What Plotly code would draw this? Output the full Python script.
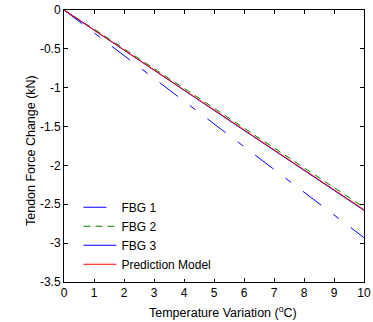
import plotly.graph_objects as go

temp = [0, 0.5, 1, 1.5, 2, 2.5, 3, 3.5, 4, 4.5, 5, 5.5, 6, 6.5, 7, 7.5, 8, 8.5, 9, 9.5, 10]
fbg1 = [0, -0.147, -0.293, -0.440, -0.586, -0.733, -0.879, -1.026, -1.172, -1.319, -1.465,
        -1.612, -1.758, -1.905, -2.051, -2.198, -2.344, -2.491, -2.637, -2.784, -2.930]
fbg2 = [0, -0.120, -0.245, -0.372, -0.498, -0.625, -0.752, -0.880, -1.006, -1.136, -1.262,
        -1.392, -1.520, -1.647, -1.776, -1.903, -2.034, -2.160, -2.290, -2.418, -2.540]
fbg3 = [0, -0.130, -0.260, -0.390, -0.518, -0.648, -0.777, -0.905, -1.034, -1.163, -1.291,
        -1.420, -1.548, -1.677, -1.806, -1.934, -2.063, -2.191, -2.320, -2.449, -2.578]
pred = [0, -0.129, -0.257, -0.386, -0.514, -0.643, -0.771, -0.900, -1.028, -1.157, -1.285,
        -1.414, -1.542, -1.671, -1.799, -1.928, -2.056, -2.185, -2.313, -2.442, -2.570]

x_ticks = [0, 1, 2, 3, 4, 5, 6, 7, 8, 9, 10]
y_ticks = [0, -0.5, -1, -1.5, -2, -2.5, -3, -3.5]
y_tick_labels = ["0", "-0.5", "-1", "-1.5", "-2", "-2.5", "-3", "-3.5"]

FONT = "Liberation Sans, Arial"

fig = go.Figure()
fig.add_trace(go.Scatter(x=temp, y=fbg1, mode="lines", name="FBG 1",
                         line=dict(color="#0000FF", width=1, dash="23px,15px,7px,15px")))
fig.add_trace(go.Scatter(x=temp, y=fbg2, mode="lines", name="FBG 2",
                         line=dict(color="#008000", width=1, dash="7px,5px")))
fig.add_trace(go.Scatter(x=temp, y=fbg3, mode="lines", name="FBG 3",
                         line=dict(color="#0000FF", width=1)))
fig.add_trace(go.Scatter(x=temp, y=pred, mode="lines", name="Prediction Model",
                         line=dict(color="#FF0000", width=1)))

axis_common = dict(showline=True, linecolor="black", linewidth=1, mirror="ticks",
                   ticks="inside", ticklen=4, tickcolor="black", showgrid=False,
                   zeroline=False, automargin=False,
                   tickfont=dict(family=FONT, size=12, color="black"))

fig.update_layout(
    width=373, height=322,
    margin=dict(l=64, r=9, t=10, b=40, autoexpand=False),
    paper_bgcolor="white", plot_bgcolor="white",
    font=dict(family=FONT, size=12, color="black"),
    xaxis=dict(range=[0, 10], tickvals=x_ticks, **axis_common),
    yaxis=dict(range=[-3.5, 0], tickvals=y_ticks, ticktext=y_tick_labels, **axis_common),
    legend=dict(x=0.048, y=0.012, xanchor="left", yanchor="bottom",
                bgcolor="rgba(255,255,255,1)", borderwidth=0,
                font=dict(family=FONT, size=12), tracegroupgap=0, itemwidth=33),
    showlegend=True,
    annotations=[
        dict(text="Temperature Variation (<sup>o</sup>C)", xref="paper", yref="paper",
             x=0.5, y=-0.11, xanchor="center", yanchor="middle", showarrow=False,
             xshift=9, font=dict(family=FONT, size=12.5)),
        dict(text="Tendon Force Change (kN)", xref="paper", yref="paper",
             x=0, y=0.5, xshift=-33, yshift=-5, xanchor="center", yanchor="middle",
             textangle=-90, showarrow=False, font=dict(family=FONT, size=12.5)),
    ],
)

fig.write_html("out.html", config={"displayModeBar": False},
               post_script="document.body.style.margin='0';document.body.style.overflow='hidden';")
